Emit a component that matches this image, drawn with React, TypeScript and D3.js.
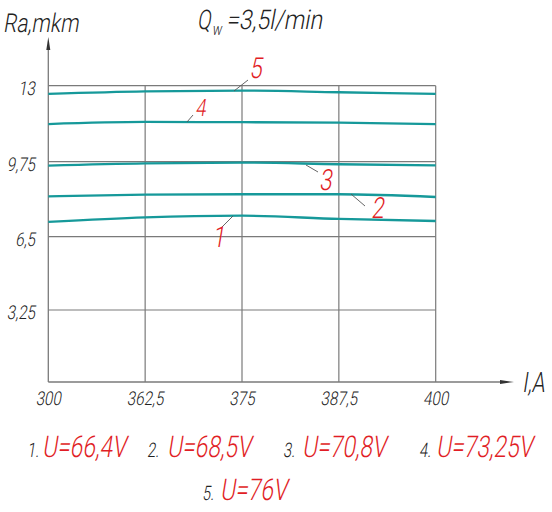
import React from "react";
import * as d3 from "d3";

// ---- data ----
const currents = ["300", "362,5", "375", "387,5", "400"];
const yTickValues = [3.25, 6.5, 9.75, 13];
const yTickLabels = ["3,25", "6,5", "9,75", "13"];
const series1 = [7.14, 7.34, 7.41, 7.27, 7.18];
const series2 = [8.25, 8.32, 8.34, 8.34, 8.22];
const series3 = [9.58, 9.68, 9.71, 9.64, 9.59];
const series4 = [11.36, 11.45, 11.44, 11.42, 11.36];
const series5 = [12.65, 12.76, 12.79, 12.72, 12.65];
const voltages = ["66,4", "68,5", "70,8", "73,25", "76"];
const seriesNames = ["1", "2", "3", "4", "5"];

const FONT = "Roboto, 'DejaVu Sans', sans-serif";
const RED = "#e11d25";
const TEAL = "#16999a";
const GRID = "#7a7a7a";
const SX = 0.74;

type TProps = {
  x: number;
  y: number;
  size: number;
  fill?: string;
  anchor?: "start" | "middle" | "end";
  sx?: number;
  children: React.ReactNode;
};

function GText({ x, y, size, fill = "#222", anchor = "start", sx = SX, children }: TProps) {
  return (
    <text
      transform={`translate(${x},${y}) scale(${sx},1) skewX(-12)`}
      fontFamily={FONT}
      fontWeight={300}
      fontSize={size}
      fill={fill}
      textAnchor={anchor}
    >
      {children}
    </text>
  );
}

export default function App() {
  const W = 552;
  const H = 512;
  const x = d3.scalePoint<string>().domain(currents).range([48.3, 435.7]);
  const y = d3
    .scaleLinear()
    .domain([0, 3.25, 6.5, 9.75, 13])
    .range([382, 310, 236.7, 161.7, 85.7]);
  const x0 = x(currents[0])!;
  const x1 = x(currents[currents.length - 1])!;
  const yTop = y(13);
  const yBase = y(0);

  const allSeries = [series1, series2, series3, series4, series5];
  const line = d3
    .line<number>()
    .x((_, i) => x(currents[i])!)
    .y((d) => y(d))
    .curve(d3.curveMonotoneX);

  // curve labels: [leader start, leader end, text pos, size]
  const labelLayout: [number, number, number, number, number, number, number][] = [
    [233, 216, 222, 227, 212, 247, 29],
    [351, 194, 365, 206, 371, 218, 29],
    [306, 165, 318, 172, 319, 190, 29],
    [187, 122, 193, 115, 195, 116, 24],
    [234, 91, 248, 80, 249, 78, 29],
  ];

  const legendPos: [number, number, number][] = [
    [27, 42, 457],
    [147, 167, 457],
    [283, 302, 457],
    [419, 436, 457],
    [202, 220, 500],
  ];

  return (
    <svg
      width={W}
      height={H}
      style={{ position: "absolute", left: 0, top: 0, background: "#fff" }}
    >
      {/* horizontal grid */}
      {yTickValues.map((v) => (
        <line key={"h" + v} x1={x0} x2={x1} y1={y(v)} y2={y(v)} stroke={GRID} strokeWidth={1.2} />
      ))}
      {/* vertical grid */}
      {currents.slice(1).map((c) => (
        <line key={"v" + c} x1={x(c)!} x2={x(c)!} y1={yTop} y2={yBase} stroke={GRID} strokeWidth={1.2} />
      ))}
      {/* axes */}
      <line x1={x0} x2={x0} y1={yBase} y2={45} stroke={GRID} strokeWidth={1.3} />
      <path d={`M${x0},37 L${x0 - 2},50 L${x0 + 2},50 Z`} fill="#333" />
      <line x1={x0} x2={505} y1={yBase} y2={yBase} stroke={GRID} strokeWidth={1.3} />
      <path d={`M514,${yBase} L500,${yBase - 2} L500,${yBase + 2} Z`} fill="#333" />

      {/* series */}
      {allSeries.map((s, i) => (
        <path key={"s" + i} d={line(s)!} fill="none" stroke={TEAL} strokeWidth={2.3} />
      ))}

      {/* curve labels */}
      {labelLayout.map((l, i) => (
        <g key={"l" + i}>
          <line x1={l[0]} y1={l[1]} x2={l[2]} y2={l[3]} stroke="#555" strokeWidth={0.9} />
          <GText x={l[4]} y={l[5]} size={l[6]} fill={RED} sx={0.78}>
            {seriesNames[i]}
          </GText>
        </g>
      ))}

      {/* y tick labels */}
      {yTickValues.map((v, i) => (
        <GText key={"yt" + v} x={35} y={y(v) + 9} size={19} anchor="end" sx={0.8}>
          {yTickLabels[i]}
        </GText>
      ))}
      {/* x tick labels */}
      {currents.map((c) => (
        <GText key={"xt" + c} x={x(c)!} y={405} size={19} anchor="middle" sx={0.8}>
          {c}
        </GText>
      ))}

      {/* axis titles */}
      <GText x={3} y={32} size={26} sx={0.8}>Ra,mkm</GText>
      <GText x={522} y={392} size={28}>I,A</GText>
      <GText x={197} y={29} size={27}>Q</GText>
      <GText x={212} y={35} size={17}>w</GText>
      <GText x={226} y={29} size={27} sx={0.86}>=3,5l/min</GText>

      {/* legend */}
      {voltages.map((v, i) => (
        <g key={"lg" + i}>
          <GText x={legendPos[i][0]} y={legendPos[i][2]} size={20}>
            {seriesNames[i] + "."}
          </GText>
          <GText x={legendPos[i][1]} y={legendPos[i][2]} size={30} fill={RED} sx={0.76}>
            {"U=" + v + "V"}
          </GText>
        </g>
      ))}
    </svg>
  );
}
